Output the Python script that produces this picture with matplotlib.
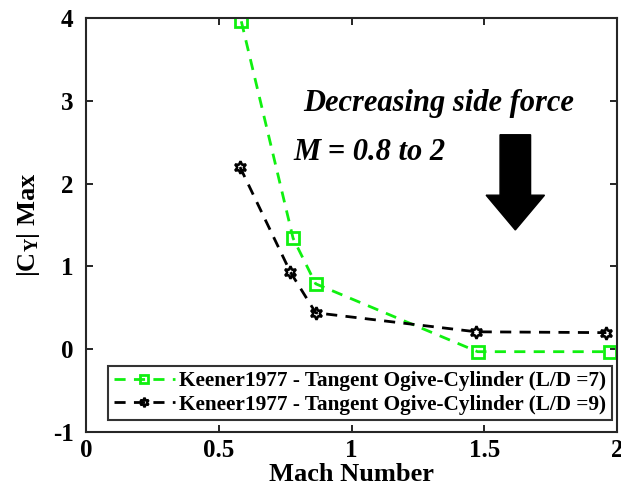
import matplotlib.pyplot as plt
from matplotlib.patches import FancyArrow

plt.rcParams['font.family'] = ['Liberation Serif', 'DejaVu Serif']
plt.rcParams['font.weight'] = 'bold'
plt.rcParams['axes.unicode_minus'] = False
plt.rcParams['mathtext.fontset'] = 'custom'
plt.rcParams['mathtext.bf'] = 'Liberation Serif:bold'
plt.rcParams['mathtext.rm'] = 'Liberation Serif:bold'
plt.rcParams['mathtext.default'] = 'bf'

# Keener1977, L/D = 7
mach_ld7 = [0.585, 0.78, 0.865, 1.475, 1.975]
cy_ld7 = [3.96, 1.34, 0.79, -0.03, -0.03]

# Keneer1977, L/D = 9
mach_ld9 = [0.58, 0.77, 0.865, 1.47, 1.96]
cy_ld9 = [2.2, 0.93, 0.44, 0.21, 0.2]

fig = plt.figure(figsize=(6.21, 4.95), dpi=100)
ax = fig.add_axes([86 / 621, 63 / 495, 531 / 621, 414 / 495])

ax.plot(mach_ld7, cy_ld7, color="#10f010", linestyle="--", linewidth=2,
        marker="s", markersize=8, markerfacecolor="none", markeredgewidth=2,
        dashes=(4, 3), label="Keener1977 - Tangent Ogive-Cylinder (L/D =7)")
ax.plot(mach_ld9, cy_ld9, color="black", linestyle="--", linewidth=2,
        marker=(6, 1, 0), markersize=9, markerfacecolor="none", markeredgewidth=1.8,
        dashes=(4, 3), label="Keneer1977 - Tangent Ogive-Cylinder (L/D =9)")

ax.set_xlim(0, 2)
ax.set_ylim(-1, 4)
ax.set_xticks([0, 0.5, 1, 1.5, 2])
ax.set_xticklabels(["0", "0.5", "1", "1.5", "2"])
ax.set_yticks([-1, 0, 1, 2, 3, 4])
ax.tick_params(direction="in", labelsize=18, width=1.2, length=5, top=True, right=True)
ax.tick_params(axis="x", pad=5)
ax.tick_params(axis="y", pad=9)
for s in ax.spines.values():
    s.set_linewidth(1.5)
    s.set_color("#262626")

ax.set_xlabel("Mach Number", fontsize=19, fontweight="bold", labelpad=1)
ax.set_ylabel(r"|C$_Y$| Max", fontsize=19, fontweight="bold", labelpad=8)

ax.text(1.33, 2.97, "Decreasing side force", fontsize=22, fontweight="bold",
        fontstyle="italic", ha="center", va="center")
ax.text(0.78, 2.38, "M = 0.8 to 2", fontsize=22, fontweight="bold",
        fontstyle="italic", ha="left", va="center")

ax.add_patch(FancyArrow(1.617, 2.59, 0, -1.15, width=0.115, head_width=0.22,
                        head_length=0.42, length_includes_head=True,
                        color="black", transform=ax.transData))

leg = ax.legend(loc="lower right", bbox_to_anchor=(0.99, 0.029), fontsize=15.3,
                frameon=True, fancybox=False, edgecolor="black", handlelength=2.9,
                borderpad=0.25, labelspacing=0.15, handletextpad=0.2,
                borderaxespad=0, markerscale=0.75)
leg.get_frame().set_linewidth(1.5)

fig.savefig("out.png", dpi=100)
